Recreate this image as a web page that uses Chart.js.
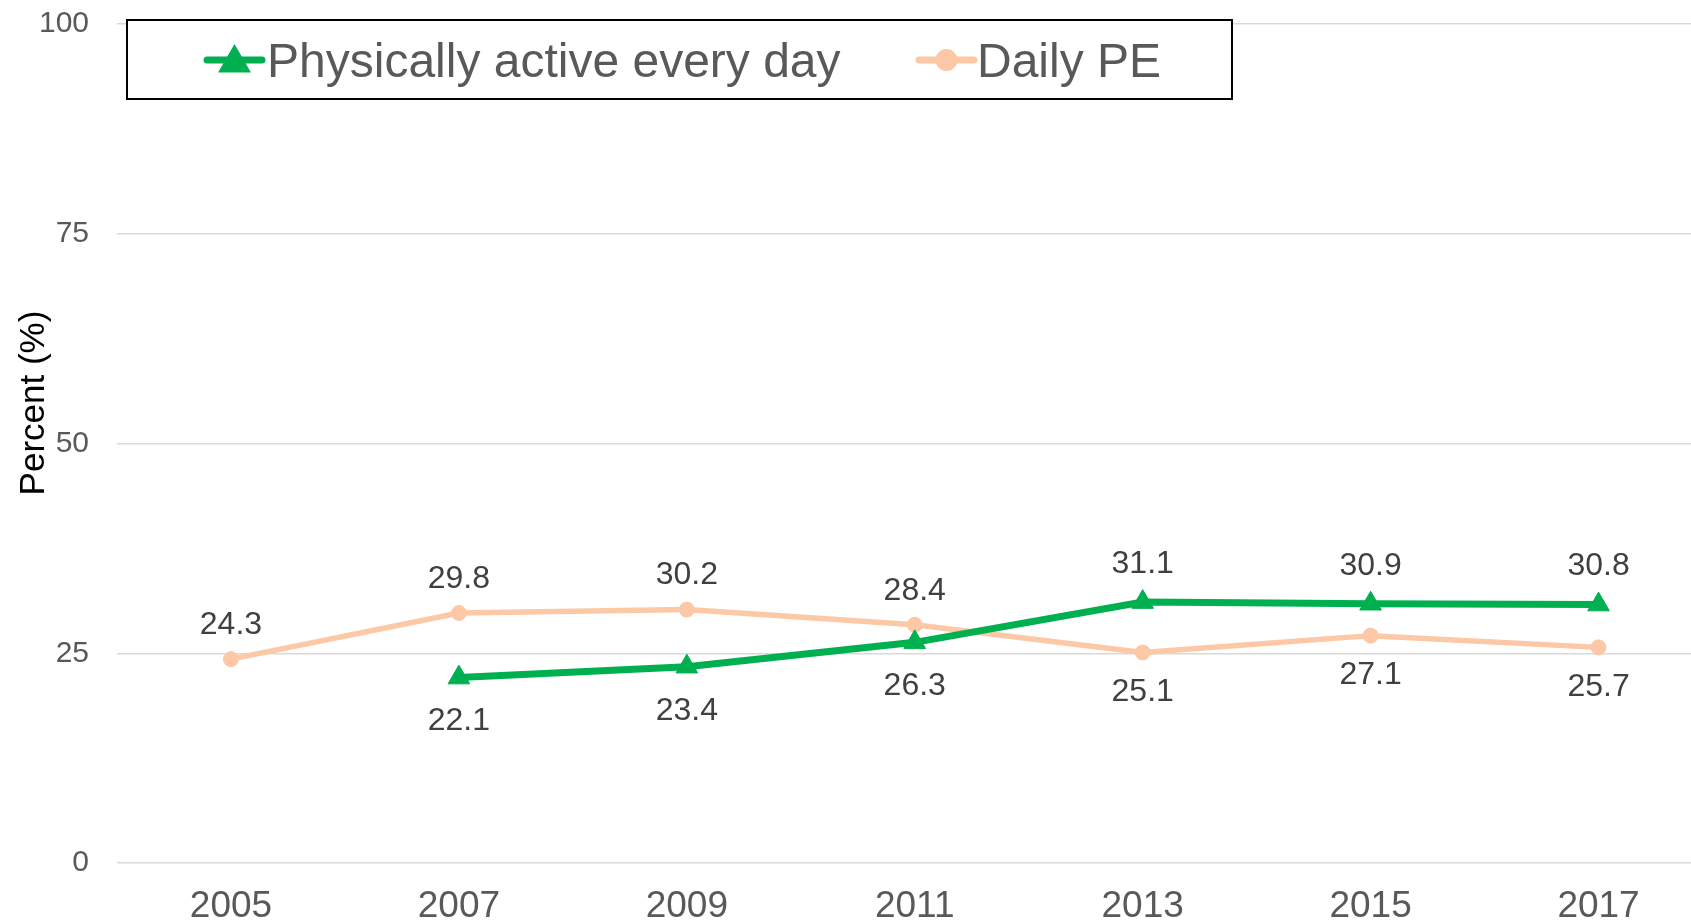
<!DOCTYPE html>
<html>
<head>
<meta charset="utf-8">
<script src="https://cdn.jsdelivr.net/npm/chart.js@4.4.1/dist/chart.umd.min.js"></script>
<style>
  html, body { margin:0; padding:0; background:#fff; overflow:hidden; }
  #wrap { position:relative; width:1726px; height:924px; }
</style>
</head>
<body>
<div id="wrap"><canvas id="trendChart"></canvas></div>
<script>
// data
const years = ['2005','2007','2009','2011','2013','2015','2017'];
const activeEveryDay = [null, 22.1, 23.4, 26.3, 31.1, 30.9, 30.8];
const dailyPE = [24.3, 29.8, 30.2, 28.4, 25.1, 27.1, 25.7];
const yTicks = [0, 25, 50, 75, 100];
const seriesNames = ['Physically active every day', 'Daily PE'];

const GREEN = '#00B050';
const PEACH = '#FCC8A6';
const FONT = '"Liberation Sans", Arial, sans-serif';

// value labels: above the point if it is the higher series at that year, else below
const valueLabels = {
  id: 'valueLabels',
  afterDatasetsDraw(chart){
    const ctx = chart.ctx;
    const all = chart.data.datasets.map(d=>d.data);
    ctx.save();
    ctx.font = '32px ' + FONT;
    ctx.fillStyle = '#404040';
    ctx.textAlign = 'center';
    ctx.textBaseline = 'middle';
    chart.data.datasets.forEach((ds, di)=>{
      const meta = chart.getDatasetMeta(di);
      const other = all[1-di];
      const up = di === 0 ? 38 : 34;
      const down = di === 0 ? 44 : 40;
      ds.data.forEach((v, i)=>{
        if (v === null || v === undefined) return;
        const pt = meta.data[i];
        const above = other[i] === null || other[i] === undefined || v > other[i];
        ctx.fillText(v.toFixed(1), pt.x, above ? pt.y - up : pt.y + down);
      });
    });
    ctx.restore();
  }
};

// boxed legend in the top-left and the rotated y title
const chartDecor = {
  id: 'chartDecor',
  afterDraw(chart){
    const ctx = chart.ctx;
    ctx.save();
    // legend box
    ctx.fillStyle = '#fff';
    ctx.fillRect(127, 20, 1105, 79);
    ctx.strokeStyle = '#000';
    ctx.lineWidth = 2;
    ctx.strokeRect(127, 20, 1105, 79);

    const items = [
      {x0:207, x1:262, color:GREEN, style:'triangle', name:seriesNames[0], tx:267},
      {x0:919, x1:974, color:PEACH, style:'circle', name:seriesNames[1], tx:977}
    ];
    items.forEach(it=>{
      ctx.strokeStyle = it.color;
      ctx.lineWidth = 7;
      ctx.lineCap = 'round';
      ctx.beginPath();
      ctx.moveTo(it.x0, 60);
      ctx.lineTo(it.x1, 60);
      ctx.stroke();
      const cx = (it.x0 + it.x1) / 2;
      Chart.helpers.drawPoint(ctx, {pointStyle: it.style, radius: it.style === 'triangle' ? 12 : 7.5, borderWidth: 1, rotation: 0}, cx, it.style === 'triangle' ? 63 : 60);
      ctx.fillStyle = it.color;
      ctx.fill();
      ctx.fillStyle = '#595959';
      ctx.font = '48px ' + FONT;
      ctx.textAlign = 'left';
      ctx.textBaseline = 'alphabetic';
      ctx.fillText(it.name, it.tx, 77);
    });

    // y axis title
    ctx.translate(34, 403);
    ctx.rotate(-Math.PI/2);
    ctx.fillStyle = '#000';
    ctx.font = '35px ' + FONT;
    ctx.textAlign = 'center';
    ctx.textBaseline = 'middle';
    ctx.fillText('Percent (%)', 0, 0);
    ctx.restore();
  }
};

const ctxT = document.getElementById('trendChart');
const trendChart = new Chart(ctxT, {
  type: 'line',
  data: {
    labels: years,
    datasets: [
      {
        label: seriesNames[0],
        data: activeEveryDay,
        borderColor: GREEN,
        backgroundColor: GREEN,
        borderWidth: 7,
        pointStyle: 'triangle',
        pointRadius: 12.5,
        pointBorderWidth: 1,
        tension: 0,
        fill: false
      },
      {
        label: seriesNames[1],
        data: dailyPE,
        borderColor: PEACH,
        backgroundColor: PEACH,
        borderWidth: 5.5,
        pointStyle: 'circle',
        pointRadius: 7.5,
        pointBorderWidth: 1,
        tension: 0,
        fill: false
      }
    ]
  },
  options: {
    responsive: true,
    maintainAspectRatio: false,
    animation: false,
    layout: { padding: { top: 24, left: 0, right: 0, bottom: 0 } },
    plugins: { legend: { display: false }, tooltip: { enabled: false } },
    scales: {
      x: {
        offset: true,
        grid: { display: false, drawTicks: false },
        border: { display: false },
        ticks: { color: '#595959', font: { family: FONT, size: 37 }, padding: 22, maxRotation: 0 },
        afterFit(scale){ scale.height = 61; }
      },
      y: {
        min: 0,
        max: 100,
        afterBuildTicks(scale){ scale.ticks = yTicks.map(v=>({value:v})); },
        grid: { color: '#D9D9D9', lineWidth: 1.5, drawTicks: false },
        border: { display: false },
        ticks: { color: '#595959', font: { family: FONT, size: 30 }, padding: 28 },
        afterFit(scale){
          scale.width = 117;
          // tick padding should not push the plot area down
          scale.paddingTop = 0;
          scale.paddingBottom = 0;
        }
      }
    }
  },
  plugins: [valueLabels, chartDecor]
});
window._trendChart = trendChart;
</script>
</body>
</html>
